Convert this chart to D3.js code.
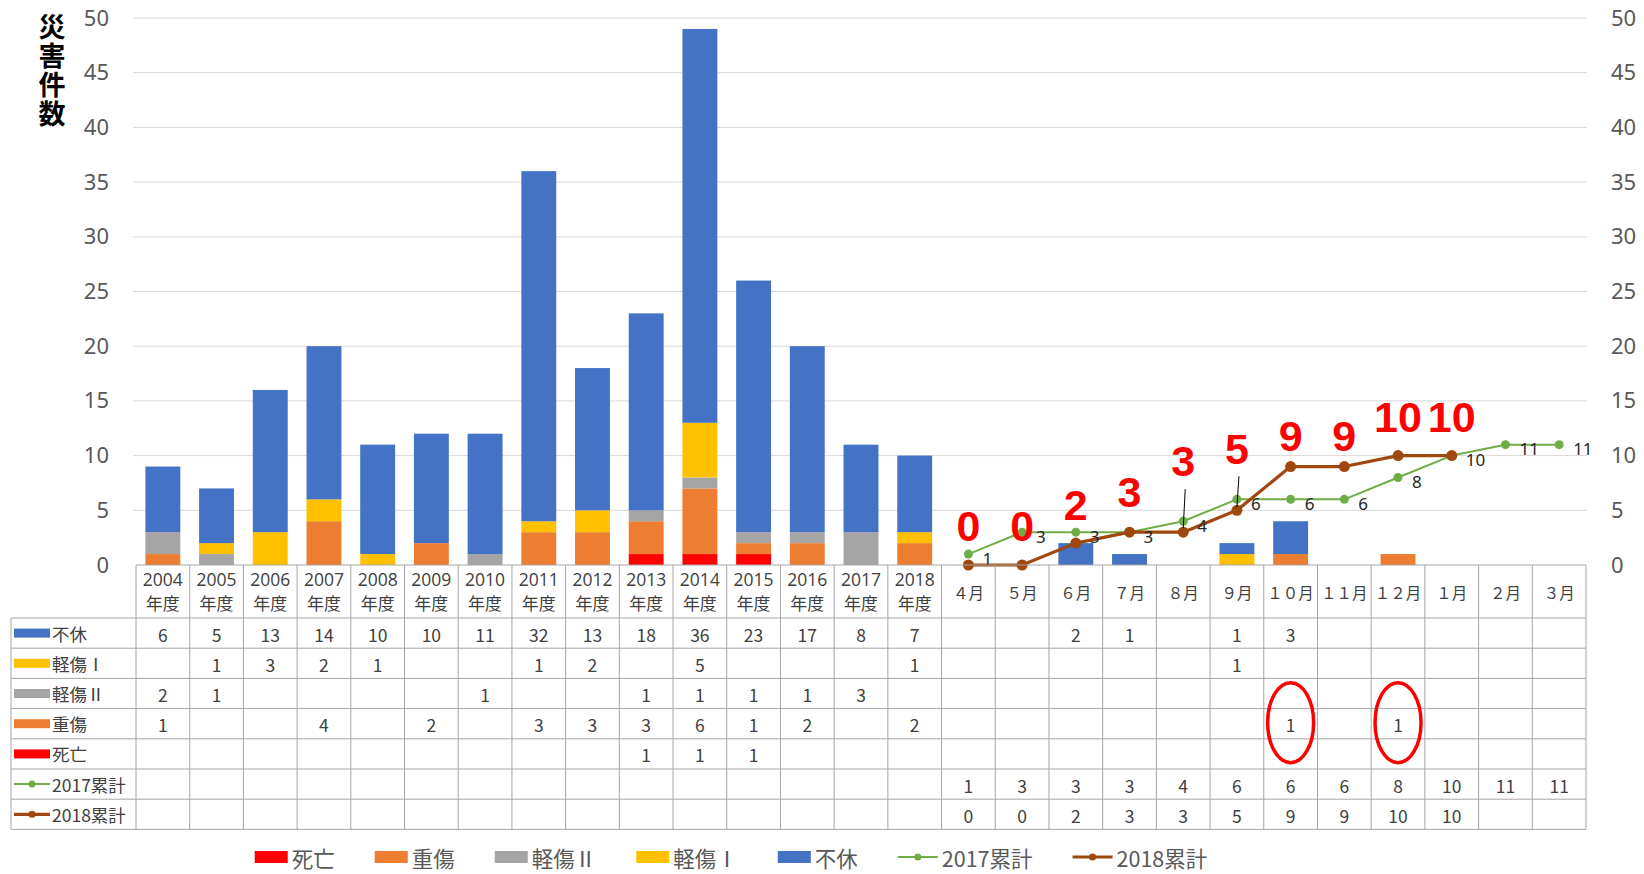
<!DOCTYPE html>
<html><head><meta charset="utf-8">
<script src="https://cdn.jsdelivr.net/npm/d3@7"></script>
<style>
html,body{margin:0;padding:0;background:#fff;}
svg{display:block;font-family:"Noto Sans CJK JP","Noto Sans",sans-serif;}
</style></head>
<body><svg id="chart" width="1644" height="874"></svg>
<script>
// ---------- data ----------
const categories = ["2004年度","2005年度","2006年度","2007年度","2008年度","2009年度","2010年度","2011年度","2012年度","2013年度","2014年度","2015年度","2016年度","2017年度","2018年度",
  "４月","５月","６月","７月","８月","９月","１０月","１１月","１２月","１月","２月","３月"];
const N = null;
const fukyu   = [6,5,13,14,10,10,11,32,13,18,36,23,17,8,7, N,N,2,1,N,1,3,N,N,N,N,N];
const keisho1 = [N,1,3,2,1,N,N,1,2,N,5,N,N,N,1, N,N,N,N,N,1,N,N,N,N,N,N];
const keisho2 = [2,1,N,N,N,N,1,N,N,1,1,1,1,3,N, N,N,N,N,N,N,N,N,N,N,N,N];
const jusho   = [1,N,N,4,N,2,N,3,3,3,6,1,2,N,2, N,N,N,N,N,N,1,N,1,N,N,N];
const shibo   = [N,N,N,N,N,N,N,N,N,1,1,1,N,N,N, N,N,N,N,N,N,N,N,N,N,N,N];
const cum2017 = [N,N,N,N,N,N,N,N,N,N,N,N,N,N,N, 1,3,3,3,4,6,6,6,8,10,11,11];
const cum2018 = [N,N,N,N,N,N,N,N,N,N,N,N,N,N,N, 0,0,2,3,3,5,9,9,10,10,N,N];
const yTicks = [0,5,10,15,20,25,30,35,40,45,50];
const yTitle = "災害件数";

const barSeries = [
  {name:"死亡", values:shibo,   color:"#FF0000"},
  {name:"重傷", values:jusho,   color:"#ED7D31"},
  {name:"軽傷Ⅱ", values:keisho2, color:"#A5A5A5"},
  {name:"軽傷Ⅰ", values:keisho1, color:"#FFC000"},
  {name:"不休", values:fukyu,   color:"#4472C4"}
];
const lineSeries = [
  {name:"2017累計", values:cum2017, color:"#70AD47", width:2, r:4.5},
  {name:"2018累計", values:cum2018, color:"#9E480E", width:3.2, r:5.5}
];
// table row order
const tableRows = [
  {s:barSeries[4], type:"bar"},
  {s:barSeries[3], type:"bar"},
  {s:barSeries[2], type:"bar"},
  {s:barSeries[1], type:"bar"},
  {s:barSeries[0], type:"bar"},
  {s:lineSeries[0], type:"line"},
  {s:lineSeries[1], type:"line"}
];
// red emphasis ellipses (category, table row name)
const highlights = [["１０月","重傷"],["１２月","重傷"]];
// layout tweaks for the 2018 label positions (px, relative to point)
const lab2018Dy = [-24,-24,-23,-25,-56,-46,-16,-16,-24,-24];
const leaders = {"８月":[-43,-4], "９月":[-34,-3]};

// ---------- layout ----------
const svg = d3.select("#chart");
const plotL = 136, plotR = 1586, yTop = 18, yBase = 565;
const tableL = 11, headerBottom = 618, rowH = 30.2;
const tableBottom = headerBottom + rowH*tableRows.length;

const x = d3.scaleBand().domain(categories).range([plotL, plotR]).paddingInner(0.35).paddingOuter(0.175);
const y = d3.scaleLinear().domain([0,50]).range([yBase, yTop]);
const step = x.step(), bw = x.bandwidth();
const cx = c => x(c) + bw/2;
const colL = c => x(c) - (step - bw)/2;

// gridlines
svg.append("g").selectAll("line").data(yTicks.filter(t=>t>0)).join("line")
  .attr("x1",133).attr("x2",1587).attr("y1",d=>y(d)).attr("y2",d=>y(d))
  .attr("stroke","#D9D9D9").attr("stroke-width",1);

// axes (labels only)
const axL = svg.append("g").attr("transform",`translate(${plotL-27},0)`)
  .call(d3.axisLeft(y).tickValues(yTicks).tickSize(0).tickPadding(0));
const axR = svg.append("g").attr("transform",`translate(${plotR+25},0)`)
  .call(d3.axisRight(y).tickValues(yTicks).tickSize(0).tickPadding(0));
[axL,axR].forEach(a=>{
  a.select(".domain").remove();
  a.selectAll("text").attr("font-size",22).attr("fill","#595959")
   .attr("font-family","'Noto Sans','Open Sans',sans-serif");
});

// y title vertical (single vertical text)
svg.append("text")
  .attr("x",52).attr("y",13)
  .attr("writing-mode","vertical-rl")
  .attr("font-size",27).attr("font-weight","bold").attr("fill","#000")
  .attr("letter-spacing",2)
  .text(yTitle);

// stacked bars
const stackData = categories.map((c,i)=>{
  const o = {cat:c};
  barSeries.forEach(s=>o[s.name] = s.values[i]||0);
  return o;
});
const stack = d3.stack().keys(barSeries.map(s=>s.name))(stackData);
svg.append("g").selectAll("g").data(stack).join("g")
  .attr("fill",(d,i)=>barSeries[i].color)
  .selectAll("rect").data(d=>d.filter(v=>v[1]-v[0]>0)).join("rect")
  .attr("x",d=>x(d.data.cat)).attr("width",bw)
  .attr("y",d=>y(d[1])).attr("height",d=>y(d[0])-y(d[1]));

// lines
lineSeries.forEach(s=>{
  const pts = categories.map((c,i)=>({c, v:s.values[i], i})).filter(p=>p.v!==null);
  s.pts = pts;
  svg.append("path").datum(pts)
    .attr("d", d3.line().x(p=>cx(p.c)).y(p=>y(p.v)))
    .attr("fill","none").attr("stroke",s.color).attr("stroke-width",s.width).attr("stroke-linejoin","round");
});
lineSeries.forEach(s=>{
  svg.append("g").selectAll("circle").data(s.pts).join("circle")
    .attr("cx",p=>cx(p.c)).attr("cy",p=>y(p.v)).attr("r",s.r).attr("fill",s.color);
});
// 2017 labels
svg.append("g").selectAll("text").data(lineSeries[0].pts).join("text")
  .attr("x",p=>cx(p.c)+14).attr("y",p=>y(p.v)+4).attr("dominant-baseline","central")
  .attr("font-size",17).attr("fill","#262626").attr("font-family","'Noto Sans',sans-serif").text(p=>p.v);
// 2018 labels (big red)
svg.append("g").selectAll("text").data(lineSeries[1].pts).join("text")
  .attr("x",p=>cx(p.c)).attr("y",(p,k)=>y(p.v)+lab2018Dy[k]).attr("text-anchor","middle")
  .attr("font-size",43).attr("font-weight","bold").attr("fill","#FF0000")
  .attr("font-family","'Liberation Sans',Arial,sans-serif").text(p=>p.v);
// leader lines
lineSeries[1].pts.filter(p=>leaders[p.c]).forEach(p=>{
  const [a,b] = leaders[p.c];
  svg.append("line").attr("x1",cx(p.c)+2).attr("x2",cx(p.c)).attr("y1",y(p.v)+a).attr("y2",y(p.v)+b)
    .attr("stroke","#000").attr("stroke-width",1);
});

// ---------- data table ----------
const tg = svg.append("g");
const gridCol = "#A6A6A6";
tg.append("line").attr("x1",plotL).attr("x2",plotR).attr("y1",yBase).attr("y2",yBase).attr("stroke",gridCol);
d3.range(tableRows.length+1).forEach(r=>{
  const yy = headerBottom + r*rowH;
  tg.append("line").attr("x1",tableL).attr("x2",plotR).attr("y1",yy).attr("y2",yy).attr("stroke",gridCol);
});
tg.append("line").attr("x1",tableL).attr("x2",tableL).attr("y1",headerBottom).attr("y2",tableBottom).attr("stroke",gridCol);
categories.forEach(c=>{
  tg.append("line").attr("x1",colL(c)).attr("x2",colL(c)).attr("y1",yBase).attr("y2",tableBottom).attr("stroke",gridCol);
});
tg.append("line").attr("x1",plotR).attr("x2",plotR).attr("y1",yBase).attr("y2",tableBottom).attr("stroke",gridCol);

// header labels
categories.forEach(c=>{
  if (c.endsWith("年度")) {
    tg.append("text").attr("x",cx(c)).attr("y",586).attr("text-anchor","middle")
      .attr("font-size",17.5).attr("fill","#404040").attr("font-family","'Open Sans','Noto Sans',sans-serif")
      .text(c.replace("年度",""));
    tg.append("text").attr("x",cx(c)).attr("y",610).attr("text-anchor","middle")
      .attr("font-size",17).attr("fill","#404040").text("年度");
  } else {
    tg.append("text").attr("x",cx(c)).attr("y",592).attr("text-anchor","middle").attr("dominant-baseline","central")
      .attr("font-size",15.5).attr("fill","#404040").text(c);
  }
});
// rows
tableRows.forEach((row,r)=>{
  const yc = headerBottom + (r+0.5)*rowH;
  if (row.type==="bar") {
    tg.append("rect").attr("x",14).attr("y",yc-4.5).attr("width",36).attr("height",9).attr("fill",row.s.color);
  } else {
    tg.append("line").attr("x1",14).attr("x2",50).attr("y1",yc).attr("y2",yc).attr("stroke",row.s.color).attr("stroke-width",row.s.width);
    tg.append("circle").attr("cx",32).attr("cy",yc).attr("r",3.5).attr("fill",row.s.color);
  }
  tg.append("text").attr("x",52).attr("y",yc).attr("dominant-baseline","central")
    .attr("font-size",17.5).attr("fill","#404040").text(row.s.name);
  categories.forEach((c,i)=>{
    const v = row.s.values[i];
    if (v===null || v===undefined) return;
    tg.append("text").attr("x",cx(c)).attr("y",yc+1).attr("text-anchor","middle").attr("dominant-baseline","central")
      .attr("font-size",17.5).attr("fill","#404040").text(v);
  });
  row.yc = yc;
});
// red ellipses
highlights.forEach(([c,name])=>{
  const row = tableRows.find(rw=>rw.s.name===name);
  svg.append("ellipse").attr("cx",cx(c)).attr("cy",row.yc-1).attr("rx",23).attr("ry",40)
    .attr("fill","none").attr("stroke","#FF0000").attr("stroke-width",3.5);
});

// ---------- legend ----------
const legendItems = barSeries.map(s=>({s,type:"bar"})).concat(lineSeries.map(s=>({s,type:"line"})));
const lg = svg.append("g");
let lx = 0;
const ly = 857, gap = 40;
legendItems.forEach(it=>{
  const g = lg.append("g").attr("transform",`translate(${lx},0)`);
  let sw;
  if (it.type==="bar") {
    sw = 33;
    g.append("rect").attr("x",0).attr("y",ly-6).attr("width",sw).attr("height",12).attr("fill",it.s.color);
  } else {
    sw = 40;
    g.append("line").attr("x1",0).attr("x2",sw).attr("y1",ly).attr("y2",ly).attr("stroke",it.s.color).attr("stroke-width",it.s.width);
    g.append("circle").attr("cx",sw/2).attr("cy",ly).attr("r",3.5).attr("fill",it.s.color);
  }
  const t = g.append("text").attr("x",sw+4).attr("y",ly).attr("dominant-baseline","central")
    .attr("font-size",21.5).attr("fill","#595959").text(it.s.name);
  lx += sw + 4 + t.node().getComputedTextLength() + gap;
});
const totalW = lx - gap;
lg.attr("transform",`translate(${731 - totalW/2},0)`);
</script>
</body></html>
